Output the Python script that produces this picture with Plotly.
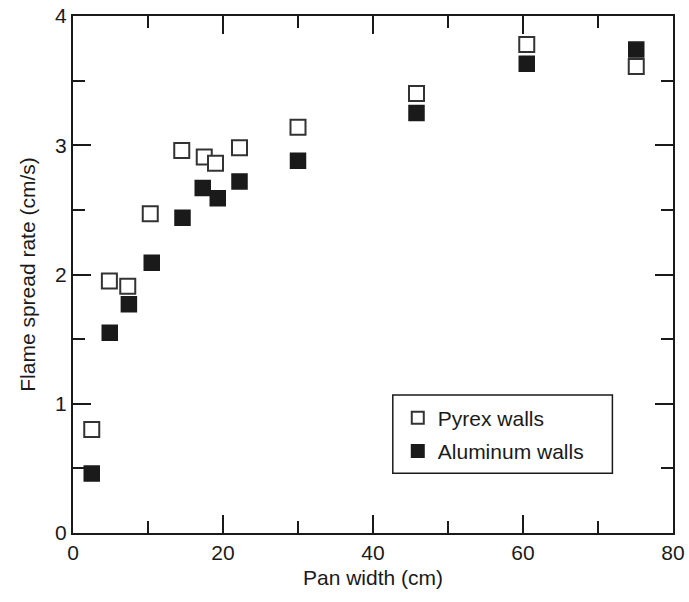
import plotly.graph_objects as go

pan_width_pyrex = [2.5, 4.85, 7.3, 10.3, 14.5, 17.5, 19.0, 22.2, 30.0, 45.8, 60.5, 75.1]
rate_pyrex = [0.80, 1.95, 1.91, 2.47, 2.96, 2.91, 2.86, 2.98, 3.14, 3.40, 3.78, 3.61]

pan_width_alu = [2.5, 4.9, 7.45, 10.5, 14.6, 17.3, 19.3, 22.2, 30.0, 45.8, 60.5, 75.1]
rate_alu = [0.46, 1.55, 1.77, 2.09, 2.44, 2.67, 2.59, 2.72, 2.88, 3.25, 3.63, 3.74]

x_ticks = [0, 20, 40, 60, 80]
y_ticks = [0, 1, 2, 3, 4]

font_family = "Liberation Sans, Arial, sans-serif"
ink = "#1a1a1a"

fig = go.Figure()
fig.add_trace(go.Scatter(
    x=pan_width_pyrex, y=rate_pyrex, mode="markers", name="Pyrex walls",
    legendgroup="a",
    marker=dict(symbol="square", size=15, color="white",
                line=dict(color="#333333", width=2)),
))
fig.add_trace(go.Scatter(
    x=pan_width_alu, y=rate_alu, mode="markers", name="Aluminum walls",
    legendgroup="b",
    marker=dict(symbol="square", size=15, color=ink,
                line=dict(color=ink, width=1.5)),
))

axis_common = dict(
    showgrid=False, zeroline=False, showline=True, linecolor=ink, linewidth=2,
    mirror="allticks", ticks="inside", ticklen=18, tickwidth=2, tickcolor=ink,
    tickfont=dict(family=font_family, size=21, color=ink),
    automargin=False,
)

fig.update_xaxes(
    range=[0, 80], tickvals=x_ticks, ticktext=[str(v) for v in x_ticks],
    title=dict(text="Pan width (cm)", font=dict(family=font_family, size=21, color=ink), standoff=7),
    minor=dict(dtick=10, ticks="inside", ticklen=12, tickwidth=2, tickcolor=ink),
    **axis_common,
)
fig.update_yaxes(
    range=[0, 4], tickvals=y_ticks, ticktext=[str(v) for v in y_ticks],
    title=dict(text="Flame spread rate (cm/s)", font=dict(family=font_family, size=21, color=ink), standoff=14),
    minor=dict(dtick=0.5, ticks="inside", ticklen=12, tickwidth=2, tickcolor=ink),
    **axis_common,
)

fig.update_layout(
    width=689, height=602,
    margin=dict(l=73, r=16, t=16, b=69),
    paper_bgcolor="white", plot_bgcolor="white",
    font=dict(family=font_family, color=ink),
    showlegend=True,
    legend=dict(
        x=0.5413, y=0.262, xanchor="left", yanchor="top",
        borderwidth=0, bgcolor="rgba(0,0,0,0)",
        font=dict(family=font_family, size=21, color=ink),
        itemsizing="constant", traceorder="grouped", tracegroupgap=3,
    ),
    shapes=[dict(
        type="rect", xref="paper", yref="paper",
        x0=0.533, x1=0.899, y0=0.1155, y1=0.267,
        line=dict(color=ink, width=1.5), fillcolor="rgba(0,0,0,0)",
    )],
)

fig.write_html("out.html")
